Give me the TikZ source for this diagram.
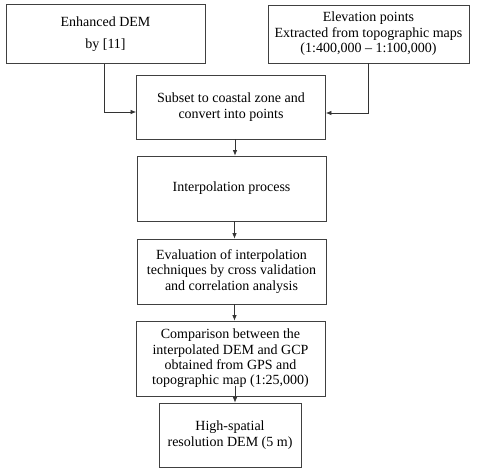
\documentclass[tikz,border=0pt]{standalone}
\usepackage{fontspec}
\setmainfont{Liberation Serif}
\usetikzlibrary{arrows.meta}
\begin{document}
\begin{tikzpicture}[x=1pt,y=-1pt,
  box/.style={draw=black!75, line width=0.8pt, fill=white, align=center,
    inner sep=2pt, font=\fontsize{14}{15.4}\selectfont},
  flow/.style={draw=black!80, line width=0.7pt, -{Latex[length=5.5pt,width=4.5pt]}}]
\useasboundingbox (0,0) rectangle (480,476);

\node[box, minimum width=199pt, minimum height=59pt] (dem) at (105.5,34)
  {Enhanced DEM\\[7pt]by [11]};
\node[box, minimum width=201pt, minimum height=58pt] (elev) at (368.5,34)
  {Elevation points\\Extracted from topographic maps\\(1:400,000 -- 1:100,000)};
\node[box, minimum width=189pt, minimum height=64pt] (subset) at (231,107)
  {Subset to coastal zone and\\convert into points};
\node[box, minimum width=189pt, minimum height=65pt] (interp) at (231.5,188.5)
  {Interpolation process};
\node[box, minimum width=189pt, minimum height=65pt] (eval) at (231.5,271.5)
  {Evaluation of interpolation\\techniques by cross validation\\and correlation analysis};
\node[box, minimum width=189pt, minimum height=75pt] (comp) at (230.5,358.5)
  {Comparison between the\\interpolated DEM and GCP\\obtained from GPS and\\topographic map (1:25,000)};
\node[box, minimum width=142pt, minimum height=64pt] (hres) at (230,435)
  {High-spatial\\resolution DEM (5 m)};

% side inputs feeding the subset step
\draw[flow] ([xshift=-1.5pt]dem.south) |- ([yshift=-5pt]subset.west);
\draw[flow] (elev.south) |- ([yshift=-6pt]subset.east);

% main processing chain
\draw[flow] ([xshift=4pt]subset.south) -- ([xshift=3.5pt]interp.north);
\draw[flow] ([xshift=3pt]interp.south) -- ([xshift=3pt]eval.north);
\draw[flow] ([xshift=3pt]eval.south) -- ([xshift=4pt]comp.north);
\draw[flow] ([xshift=4.5pt,yshift=10pt]comp.south) -- ([xshift=5pt]hres.north);
\end{tikzpicture}
\end{document}
